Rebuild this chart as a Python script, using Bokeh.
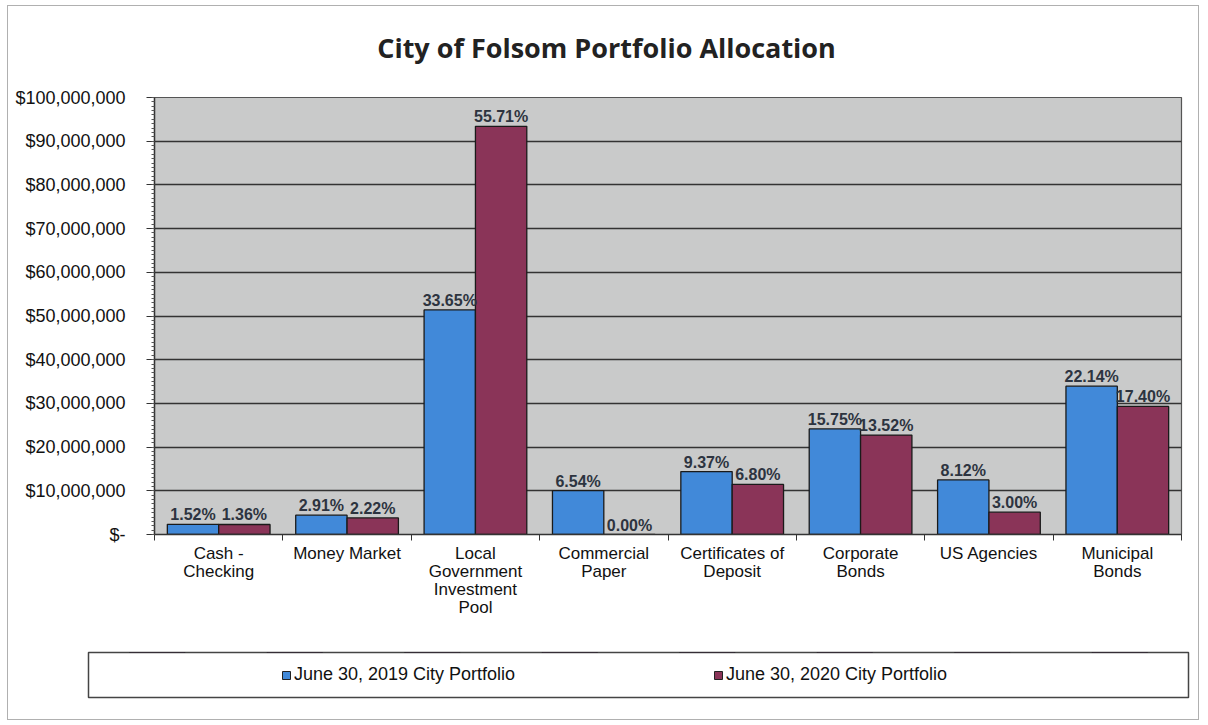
import numpy as np
from bokeh.plotting import figure
from bokeh.models import (ColumnDataSource, Range1d, FixedTicker, SingleIntervalTicker,
                          NumeralTickFormatter, Legend, LegendItem, Label)
from bokeh.layouts import column
from bokeh.transform import dodge
from bokeh.core.properties import value
from bokeh.embed import file_html
from bokeh.resources import INLINE

title_text = "City of Folsom Portfolio Allocation"
categories = ["Cash -\nChecking", "Money Market", "Local\nGovernment\nInvestment\nPool",
              "Commercial\nPaper", "Certificates of\nDeposit", "Corporate\nBonds",
              "US Agencies", "Municipal\nBonds"]
values_2019 = [2330000, 4420000, 51400000, 10050000, 14400000, 24150000, 12500000, 33950000]
values_2020 = [2290000, 3800000, 93400000, 0, 11450000, 22750000, 5100000, 29300000]
pct_2019 = ["1.52%", "2.91%", "33.65%", "6.54%", "9.37%", "15.75%", "8.12%", "22.14%"]
pct_2020 = ["1.36%", "2.22%", "55.71%", "0.00%", "6.80%", "13.52%", "3.00%", "17.40%"]
series_names = ["June 30, 2019 City Portfolio", "June 30, 2020 City Portfolio"]
y_ticks = [0, 10000000, 20000000, 30000000, 40000000, 50000000,
           60000000, 70000000, 80000000, 90000000, 100000000]

BLUE = "#4189d9"
MAROON = "#8a3458"
AXIS_FONT = "Liberation Sans"

n = len(categories)
centers = (np.arange(n) + 0.5).tolist()
bounds = np.arange(n + 1).tolist()

src = ColumnDataSource(dict(x=centers, v19=values_2019, v20=values_2020,
                            p19=pct_2019, p20=pct_2020))

# title strip
pt = figure(width=1190, height=70, output_backend="svg", toolbar_location=None,
            x_range=Range1d(0, 1190), y_range=Range1d(0, 70),
            x_axis_location=None, y_axis_location=None,
            min_border_left=0, min_border_right=0, min_border_top=0, min_border_bottom=0)
pt.frame_align = False
pt.grid.visible = False
pt.outline_line_color = None
pt.border_fill_color = "white"
pt.background_fill_color = "white"
pt.add_layout(Label(text=title_text, x=598, y=29, text_font="Open Sans",
                    text_font_style="bold", text_font_size="27px", text_color="#222222",
                    text_align="center", text_baseline="middle"))

p = figure(width=1190, height=561, output_backend="svg", toolbar_location=None,
           x_range=Range1d(0, n), y_range=Range1d(0, y_ticks[-1]),
           min_border_left=146, min_border_right=17, min_border_top=21,
           min_border_bottom=103)
p.frame_align = False
p.background_fill_color = "#c9caca"
p.border_fill_color = "white"
p.outline_line_color = "#555555"
p.outline_line_width = 1.2

r19 = p.vbar(x=dodge("x", -0.2, range=p.x_range), top="v19", width=0.4, source=src,
             fill_color=BLUE, line_color="#1a1a1a", line_width=1.3)
r20 = p.vbar(x=dodge("x", 0.2, range=p.x_range), top="v20", width=0.4, source=src,
             fill_color=MAROON, line_color="#1a1a1a", line_width=1.3)

lbl_style = dict(text_font=value(AXIS_FONT), text_font_style="bold", text_font_size="16px",
                 text_color="#2d3440", text_align="center", text_baseline="bottom", y_offset=-1)
p.text(x=dodge("x", -0.2, range=p.x_range), y="v19", text="p19", source=src, **lbl_style)
p.text(x=dodge("x", 0.2, range=p.x_range), y="v20", text="p20", source=src, **lbl_style)

# grid
p.xgrid.visible = False
p.ygrid.ticker = FixedTicker(ticks=y_ticks)
p.ygrid.grid_line_color = "#333333"
p.ygrid.grid_line_width = 1.4

# x axis
xa = p.xaxis[0]
xa.ticker = FixedTicker(ticks=centers, minor_ticks=bounds)
xa.major_label_overrides = {c: lab for c, lab in zip(centers, categories)}
xa.major_tick_out = 0
xa.major_tick_in = 0
xa.minor_tick_out = 6
xa.minor_tick_in = 0
xa.minor_tick_line_color = "#333333"
xa.axis_line_color = "#333333"
xa.axis_line_width = 1.4
xa.major_label_text_font = AXIS_FONT
xa.major_label_text_font_size = "17px"
xa.major_label_text_line_height = 0.95
xa.major_label_text_color = "#111111"
xa.major_label_standoff = 3

# y axis
ya = p.yaxis[0]
ya.ticker = SingleIntervalTicker(interval=10000000, num_minor_ticks=10)
ya.formatter = NumeralTickFormatter(format="$0,0")
ya.major_label_overrides = {0: "$-"}
ya.major_tick_out = 8
ya.major_tick_in = 0
ya.major_tick_line_color = "#333333"
ya.minor_tick_out = 3
ya.minor_tick_in = 0
ya.minor_tick_line_color = "#555555"
ya.axis_line_color = "#333333"
ya.axis_line_width = 1.4
ya.major_label_text_font = AXIS_FONT
ya.major_label_text_font_size = "18px"
ya.major_label_text_color = "#111111"
ya.major_label_standoff = 21

# legend strip: bars drawn from the same data but outside its visible range
p2 = figure(width=1190, height=82, output_backend="svg", toolbar_location=None,
            x_range=Range1d(0, n), y_range=Range1d(-2, -1),
            x_axis_location=None, y_axis_location=None,
            min_border_left=80, min_border_right=10, min_border_top=15, min_border_bottom=22)
p2.frame_align = False
p2.grid.visible = False
p2.outline_line_color = "#444444"
p2.outline_line_width = 1.5
p2.border_fill_color = "white"
p2.background_fill_color = "white"
g19 = p2.vbar(x="x", top="v19", width=0.4, source=src, fill_color=BLUE, line_color="#222222")
g20 = p2.vbar(x="x", top="v20", width=0.4, source=src, fill_color=MAROON, line_color="#222222")
legend = Legend(items=[LegendItem(label=series_names[0], renderers=[g19]),
                       LegendItem(label=series_names[1], renderers=[g20])],
                orientation="horizontal", location=(193, 12), padding=0, margin=0,
                spacing=10, glyph_width=10, glyph_height=10, label_standoff=3,
                label_width=409, label_height=20, border_line_color=None,
                background_fill_alpha=0, label_text_font=AXIS_FONT,
                label_text_font_size="18px", label_text_color="#111111")
p2.add_layout(legend, "center")

layout = column(pt, p, p2, spacing=0,
                styles={"border": "1px solid #b0b0b0", "margin-left": "7px", "margin-top": "5px"})

open("out.html", "w").write(file_html(layout, INLINE))
